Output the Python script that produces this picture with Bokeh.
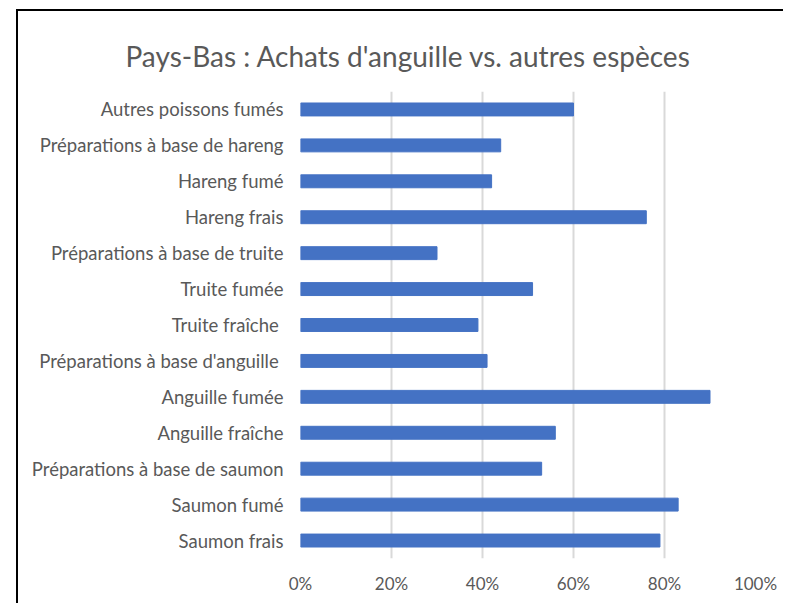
from bokeh.plotting import figure
from bokeh.models import (Range1d, FactorRange, NumeralTickFormatter, FixedTicker,
                          ColumnDataSource, InlineStyleSheet)
from bokeh.embed import file_html
from bokeh.resources import INLINE

categories = [
    "Autres poissons fumés",
    "Préparations à base de hareng",
    "Hareng fumé",
    "Hareng frais",
    "Préparations à base de truite",
    "Truite fumée",
    "Truite fraîche ",
    "Préparations à base d'anguille ",
    "Anguille fumée",
    "Anguille fraîche",
    "Préparations à base de saumon",
    "Saumon fumé",
    "Saumon frais",
]
values = [0.60, 0.44, 0.42, 0.76, 0.30, 0.51, 0.39, 0.41, 0.90, 0.56, 0.53, 0.83, 0.79]
x_ticks = [0, 0.2, 0.4, 0.6, 0.8, 1.0]

src = ColumnDataSource(dict(cat=categories, val=values))

TXT = "#595959"
FONT = "Lato"

p = figure(
    width=767, height=594,
    y_range=FactorRange(factors=list(reversed(categories)), range_padding=0),
    x_range=Range1d(0, 1),
    output_backend="svg", toolbar_location=None,
    title="Pays-Bas : Achats d'anguille vs. autres espèces",
    min_border_left=282, min_border_right=30, min_border_top=80, min_border_bottom=47,
)
p.margin = (9, 0, 0, 16)
p.stylesheets = [InlineStyleSheet(
    css=":host { border-left: 2px solid black; border-top: 2px solid black; overflow: hidden; }")]

p.hbar(y="cat", right="val", left=0, height=0.36, source=src,
       fill_color="#4472C4", line_color="#4472C4")

p.outline_line_color = None
p.background_fill_color = "white"
p.border_fill_color = "white"

p.title.text_font = FONT
p.title.text_font_size = "28px"
p.title.text_font_style = "normal"
p.title.text_color = TXT
p.title.align = "left"
p.title.vertical_align = "top"
p.title.offset = -175
p.title.standoff = 33

p.xaxis.ticker = FixedTicker(ticks=x_ticks)
p.xaxis.formatter = NumeralTickFormatter(format="0%")
p.xaxis.axis_line_color = None
p.xaxis.major_tick_line_color = None
p.xaxis.minor_tick_line_color = None
p.xaxis.major_label_standoff = 8
p.xaxis.major_label_text_font = FONT
p.xaxis.major_label_text_font_size = "17px"
p.xaxis.major_label_text_color = TXT

p.yaxis.axis_line_color = None
p.yaxis.major_tick_line_color = None
p.yaxis.minor_tick_line_color = None
p.yaxis.major_label_standoff = 11
p.yaxis.major_label_text_font = FONT
p.yaxis.major_label_text_font_size = "18.5px"
p.yaxis.major_label_text_color = TXT

p.xgrid.grid_line_color = "#d9d9d9"
p.xgrid.grid_line_width = 2
p.ygrid.grid_line_color = None

open("out.html", "w").write(file_html(p, INLINE))
